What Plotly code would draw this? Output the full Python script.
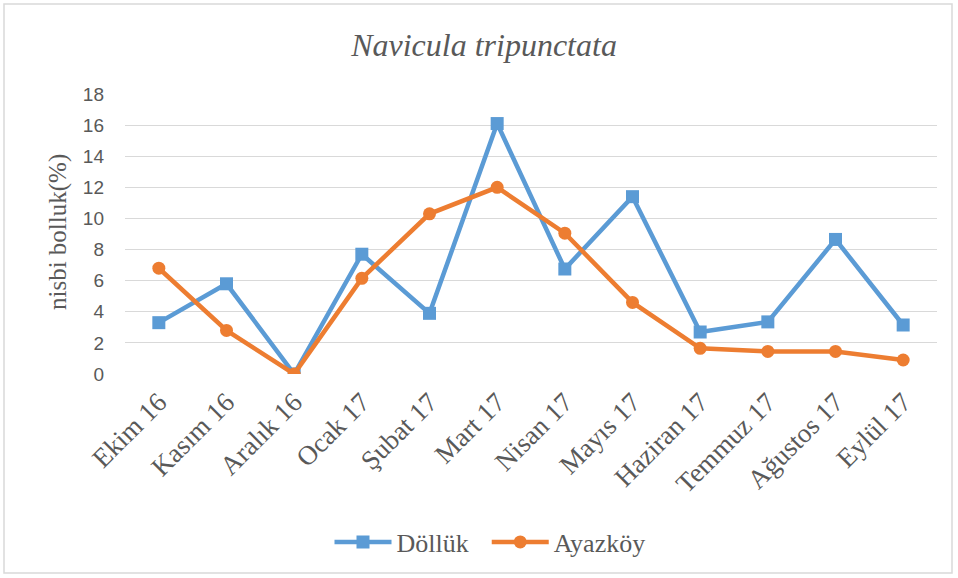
import plotly.graph_objects as go

months = ["Ekim 16", "Kasım 16", "Aralık 16", "Ocak 17", "Şubat 17", "Mart 17",
          "Nisan 17", "Mayıs 17", "Haziran 17", "Temmuz 17", "Ağustos 17", "Eylül 17"]
dolluk = [3.3, 5.8, 0.0, 7.7, 3.9, 16.1, 6.75, 11.4, 2.7, 3.35, 8.65, 3.15]
ayazkoy = [6.8, 2.8, 0.0, 6.15, 10.3, 12.0, 9.05, 4.6, 1.65, 1.45, 1.45, 0.9]
y_ticks = [0, 2, 4, 6, 8, 10, 12, 14, 16, 18]
series_names = ["Döllük", "Ayazköy"]

serif = "Liberation Serif, Times New Roman, serif"
grey = "#595959"

fig = go.Figure()
fig.add_trace(go.Scatter(x=months, y=dolluk, name=series_names[0] + "\u00a0\u00a0",
                         mode="lines+markers",
                         line=dict(color="#5B9BD5", width=4.5),
                         marker=dict(symbol="square", size=13, color="#5B9BD5")))
fig.add_trace(go.Scatter(x=months, y=ayazkoy, name=series_names[1], mode="lines+markers",
                         line=dict(color="#ED7D31", width=4.5),
                         marker=dict(symbol="circle", size=13, color="#ED7D31")))

L, R, T, B = 125, 21, 94, 204
W, H = 958, 578
pw, ph = W - L - R, H - T - B

def px_x(px):
    return (px - L) / pw

def px_y(py):
    return (H - B - py) / ph

fig.update_layout(
    width=W, height=H,
    margin=dict(l=L, r=R, t=T, b=B, autoexpand=False),
    paper_bgcolor="white", plot_bgcolor="white",
    font=dict(family=serif, color=grey),
    title=dict(text="<i>Navicula tripunctata</i>", x=px_x(484), xanchor="center",
               xref="paper", y=1 - 45 / H, yanchor="middle",
               font=dict(family=serif, size=32, color=grey)),
    xaxis=dict(type="category", range=[-0.5, len(months) - 0.5],
               showgrid=False, zeroline=False, showline=False,
               ticks="", tickangle=-45, automargin=False, ticklabelstandoff=6,
               tickfont=dict(family=serif, size=27, color=grey)),
    yaxis=dict(range=[0, 18], tickvals=y_ticks, showgrid=True, gridcolor="#D9D9D9",
               gridwidth=1, zeroline=False, showline=False, ticks="",
               automargin=False, ticklabelstandoff=20,
               tickfont=dict(family="Liberation Sans, Arial, sans-serif", size=19, color=grey)),
    legend=dict(orientation="h", x=px_x(490), xanchor="center", y=px_y(542),
                yanchor="middle", font=dict(family=serif, size=26, color=grey),
                itemwidth=57),
    showlegend=True,
    annotations=[dict(text="nisbi bolluk(%)", xref="paper", yref="paper",
                      x=px_x(58), y=px_y(232), textangle=-90, showarrow=False,
                      xanchor="center", yanchor="middle",
                      font=dict(family=serif, size=25, color=grey))],
    shapes=[dict(type="rect", xref="paper", yref="paper",
                 x0=px_x(4), x1=px_x(952),
                 y0=px_y(573), y1=px_y(4),
                 line=dict(color="#D9D9D9", width=1.5), fillcolor="rgba(0,0,0,0)")],
)

fig.write_html("out.html", config={"displayModeBar": False},
               post_script="document.body.style.margin='0';")
